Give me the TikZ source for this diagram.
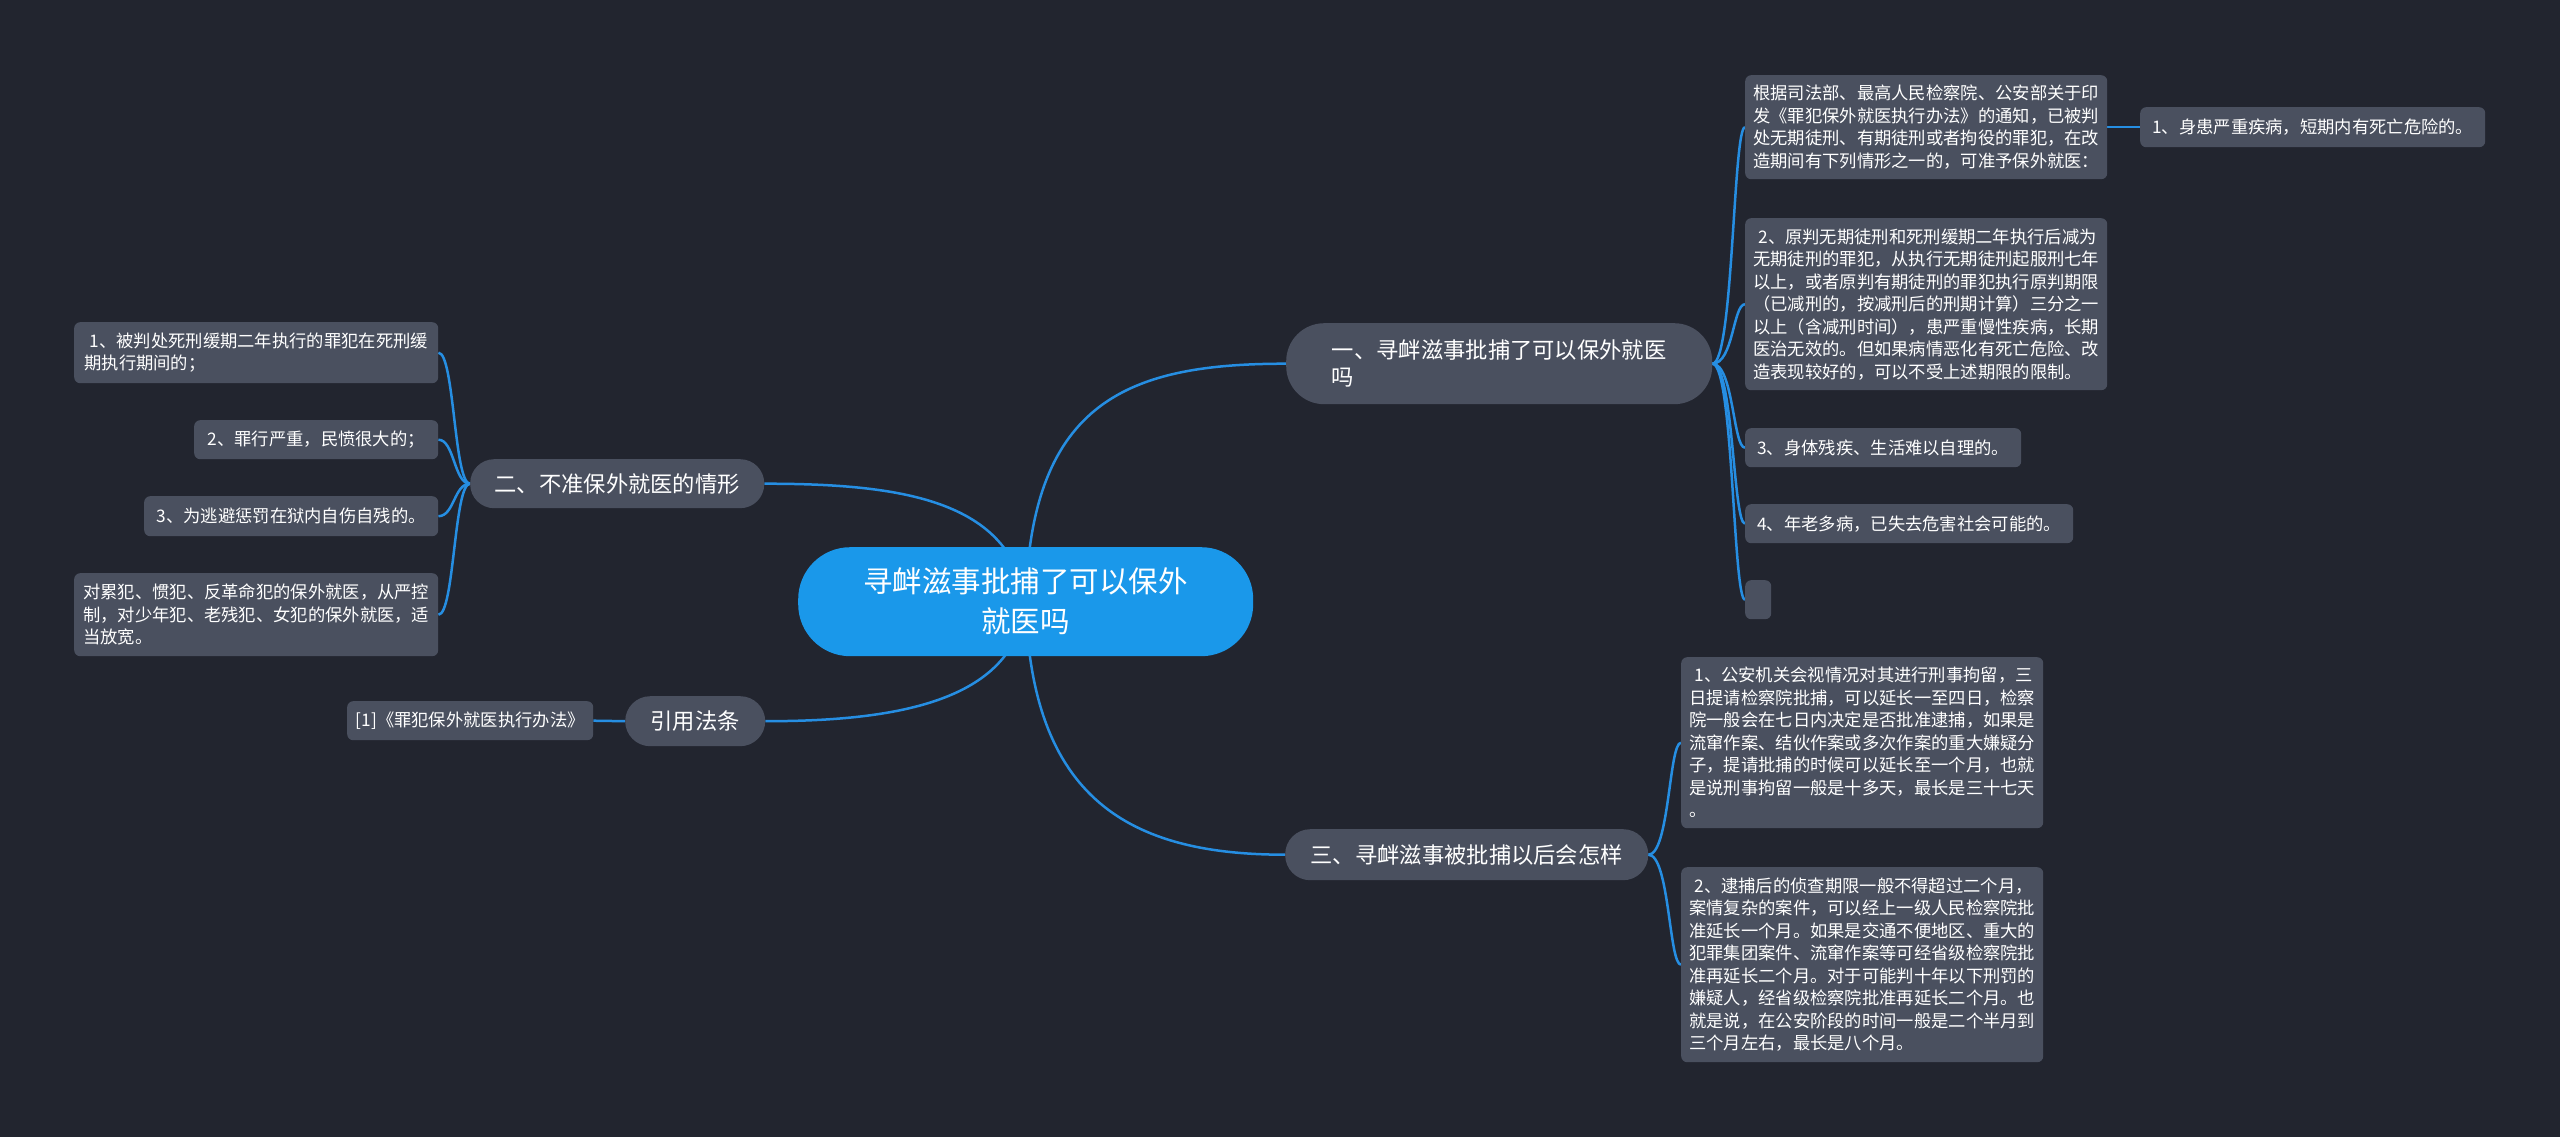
\documentclass[tikz,border=0pt]{standalone}
\usepackage{fontspec}
\setmainfont{Noto Sans CJK SC}
\usetikzlibrary{backgrounds}
\definecolor{bgdark}{RGB}{34,37,47}
\definecolor{boxgray}{RGB}{74,80,95}
\definecolor{hubblue}{RGB}{26,152,234}
\definecolor{linkblue}{RGB}{38,142,226}

\begin{document}
\begin{tikzpicture}[x=1pt, y=-1pt,
    leaf/.style={rounded corners=6pt, fill=boxgray, text=white, align=left,
                 anchor=north west, inner sep=0pt,
                 font=\fontsize{17.3}{22.5}\selectfont},
    branch/.style={fill=boxgray, text=white, align=left, anchor=north west,
                   inner sep=0pt, font=\fontsize{22.3}{27}\selectfont},
    hub/.style={rounded corners=52pt, fill=hubblue, text=white, align=center,
                anchor=north west, inner sep=0pt,
                font=\fontsize{29.5}{40}\selectfont},
    link/.style={draw=linkblue, line width=2.5pt}
  ]
  \useasboundingbox (0,0) rectangle (2560,1137);
  \begin{scope}[on background layer]
    \fill[bgdark] (0,0) rectangle (2560,1137);
  \end{scope}

  % centre
  \node[hub, minimum width=455pt, minimum height=109pt] (root) at (798,547)
    {寻衅滋事批捕了可以保外\\就医吗};

  % branch one
  \node[branch, rounded corners=38pt, minimum width=426pt, minimum height=81pt] (b1) at (1286,323)
    {一、寻衅滋事批捕了可以保外就医\\吗};
  \node[leaf, minimum width=362pt, minimum height=104pt] (a1) at (1745,75)
    {根据司法部、最高人民检察院、公安部关于印\\发《罪犯保外就医执行办法》的通知，已被判\\处无期徒刑、有期徒刑或者拘役的罪犯，在改\\造期间有下列情形之一的，可准予保外就医：};
  \node[leaf, minimum width=345pt, minimum height=40pt] (a1x) at (2140,107)
    {1、身患严重疾病，短期内有死亡危险的。};
  \node[leaf, minimum width=362pt, minimum height=172pt] (a2) at (1745,218)
    {\hspace*{0.3em}2、原判无期徒刑和死刑缓期二年执行后减为\\无期徒刑的罪犯，从执行无期徒刑起服刑七年\\以上，或者原判有期徒刑的罪犯执行原判期限\\（已减刑的，按减刑后的刑期计算）三分之一\\以上（含减刑时间），患严重慢性疾病，长期\\医治无效的。但如果病情恶化有死亡危险、改\\造表现较好的，可以不受上述期限的限制。};
  \node[leaf, minimum width=276pt, minimum height=39pt] (a3) at (1745,428)
    {3、身体残疾、生活难以自理的。};
  \node[leaf, minimum width=328pt, minimum height=39pt] (a4) at (1745,504)
    {4、年老多病，已失去危害社会可能的。};
  \node[leaf, minimum width=26pt, minimum height=39pt] (a5) at (1745,580) {};

  % branch two
  \node[branch, rounded corners=24pt, minimum width=294pt, minimum height=49pt] (b2) at (470,459)
    {二、不准保外就医的情形};
  \node[leaf, minimum width=364pt, minimum height=61pt] (l1) at (74,322)
    {\hspace*{0.3em}1、被判处死刑缓期二年执行的罪犯在死刑缓\\期执行期间的；};
  \node[leaf, minimum width=244pt, minimum height=39pt] (l2) at (194,420)
    {2、罪行严重，民愤很大的；};
  \node[leaf, minimum width=294pt, minimum height=40pt] (l3) at (144,496)
    {3、为逃避惩罚在狱内自伤自残的。};
  \node[leaf, minimum width=364pt, minimum height=83pt] (l4) at (74,573)
    {对累犯、惯犯、反革命犯的保外就医，从严控\\制，对少年犯、老残犯、女犯的保外就医，适\\当放宽。};

  % branch three
  \node[branch, rounded corners=25pt, minimum width=140pt, minimum height=50pt] (b3) at (625,696)
    {引用法条};
  \node[leaf, minimum width=246pt, minimum height=39pt] (ref) at (347,701)
    {[1]《罪犯保外就医执行办法》};

  % branch four
  \node[branch, rounded corners=25pt, minimum width=363pt, minimum height=51pt] (b4) at (1285,829)
    {三、寻衅滋事被批捕以后会怎样};
  \node[leaf, minimum width=362pt, minimum height=171pt] (r1) at (1681,657)
    {\hspace*{0.3em}1、公安机关会视情况对其进行刑事拘留，三\\日提请检察院批捕，可以延长一至四日，检察\\院一般会在七日内决定是否批准逮捕，如果是\\流窜作案、结伙作案或多次作案的重大嫌疑分\\子，提请批捕的时候可以延长至一个月，也就\\是说刑事拘留一般是十多天，最长是三十七天\\。};
  \node[leaf, minimum width=362pt, minimum height=195pt] (r2) at (1681,867)
    {\hspace*{0.3em}2、逮捕后的侦查期限一般不得超过二个月，\\案情复杂的案件，可以经上一级人民检察院批\\准延长一个月。如果是交通不便地区、重大的\\犯罪集团案件、流窜作案等可经省级检察院批\\准再延长二个月。对于可能判十年以下刑罚的\\嫌疑人，经省级检察院批准再延长二个月。也\\就是说，在公安阶段的时间一般是二个半月到\\三个月左右，最长是八个月。};

  % connectors
  \begin{scope}[on background layer]
    \draw[link] (root.center) .. controls +(5,-202) and +(-156,0) .. (b1.west);
    \draw[link] (root.center) .. controls +(-15,-102) and +(136,0) .. (b2.east);
    \draw[link] (root.center) .. controls +(-10,98) and +(136,0) .. (b3.west -| b3.east);
    \draw[link] (root.center) .. controls +(5,198) and +(-155,0) .. (b4.west);
    \foreach \k in {a1,a2,a3,a4,a5}
      \draw[link] (b1.east) .. controls +(21,0) and +(-12,0) .. (\k.west);
    \draw[link] (a1.east) -- (a1x.west);
    \foreach \k in {l1,l2,l3,l4}
      \draw[link] (b2.west) .. controls +(-16,0) and +(16,0) .. (\k.east);
    \draw[link] (b3.west) -- (ref.east);
    \foreach \k in {r1,r2}
      \draw[link] (b4.east) .. controls +(21,0) and +(-12,0) .. (\k.west);
  \end{scope}
\end{tikzpicture}
\end{document}
